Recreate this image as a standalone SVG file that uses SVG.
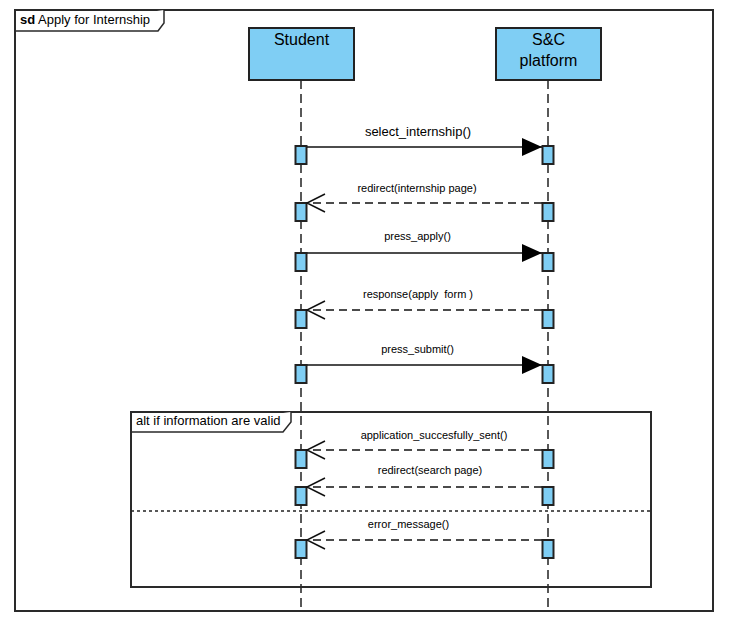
<svg xmlns="http://www.w3.org/2000/svg" width="730" height="623" viewBox="0 0 730 623">
  <style>
    .frame { fill: none; stroke: #2a2a2a; stroke-width: 2; }
    .tab { fill: #ffffff; stroke: #2a2a2a; stroke-width: 1.5; }
    .head { fill: #7fcef4; stroke: #222; stroke-width: 2; }
    .act { fill: #7fcef4; stroke: #222; stroke-width: 2; }
    .life { stroke: #222; stroke-width: 1.5; stroke-dasharray: 9 5; fill: none; }
    .call { stroke: #111; stroke-width: 1.5; fill: none; }
    .ret { stroke: #111; stroke-width: 1.5; stroke-dasharray: 8 5; fill: none; }
    .open { stroke: #111; stroke-width: 1.5; fill: none; }
    .sep { stroke: #222; stroke-width: 1.5; stroke-dasharray: 3 3; fill: none; }
    .name { font-family: "Liberation Sans", Arial, sans-serif; font-size: 16px; fill: #000; text-anchor: middle; }
    .lbl { font-family: "Liberation Sans", Arial, sans-serif; font-size: 11px; fill: #000; text-anchor: middle; }
    .lbl.big { font-size: 13px; }
    .lbl13 { font-family: "Liberation Sans", Arial, sans-serif; font-size: 13px; fill: #000; }
  </style>
  <defs>
    <marker id="filled" markerWidth="20" markerHeight="18" refX="20" refY="9" orient="auto" markerUnits="userSpaceOnUse">
      <path d="M0,0 L20,9 L0,18 Z" fill="#000"/>
    </marker>
  </defs>

  <rect width="730" height="623" fill="#ffffff"/>

  <!-- sd frame -->
  <g id="frame-sd">
    <rect class="frame" x="15" y="10" width="698" height="601"/>
    <path class="tab" d="M15,31 H158 L164,23 V10"/>
    <text class="lbl13" x="20" y="24"><tspan font-weight="bold">sd</tspan> Apply for Internship</text>
  </g>

  <!-- lifeline: Student -->
  <g id="student">
    <line class="life" x1="301" y1="80" x2="301" y2="611"/>
    <rect class="head" x="249" y="28" width="105" height="52"/>
    <text class="name" x="301.5" y="45">Student</text>
  </g>

  <!-- lifeline: S&C platform -->
  <g id="platform">
    <line class="life" x1="548" y1="80" x2="548" y2="611"/>
    <rect class="head" x="496" y="28" width="105" height="52"/>
    <text class="name" x="548.5" y="45">S&amp;C</text>
    <text class="name" x="548.5" y="66">platform</text>
  </g>

  <!-- alt combined fragment -->
  <g id="alt-fragment">
    <rect class="frame" x="131" y="412" width="520" height="175"/>
    <path class="tab" d="M131,432 H283 L291,422 V412"/>
    <text class="lbl13" x="136" y="425">alt if information are valid</text>
    <line class="sep" x1="131" y1="511" x2="651" y2="511"/>
  </g>

  <!-- activation bars -->
  <g id="activations">
    <rect class="act" x="295.5" y="146" width="11" height="18"/>
    <rect class="act" x="542.5" y="146" width="11" height="18"/>
    <rect class="act" x="295.5" y="203" width="11" height="18"/>
    <rect class="act" x="542.5" y="203" width="11" height="18"/>
    <rect class="act" x="295.5" y="253" width="11" height="18"/>
    <rect class="act" x="542.5" y="253" width="11" height="18"/>
    <rect class="act" x="295.5" y="310" width="11" height="18"/>
    <rect class="act" x="542.5" y="310" width="11" height="18"/>
    <rect class="act" x="295.5" y="365" width="11" height="18"/>
    <rect class="act" x="542.5" y="365" width="11" height="18"/>
    <rect class="act" x="295.5" y="450" width="11" height="18"/>
    <rect class="act" x="542.5" y="450" width="11" height="18"/>
    <rect class="act" x="295.5" y="487" width="11" height="18"/>
    <rect class="act" x="542.5" y="487" width="11" height="18"/>
    <rect class="act" x="295.5" y="540" width="11" height="18"/>
    <rect class="act" x="542.5" y="540" width="11" height="18"/>
  </g>

  <!-- messages -->
  <g id="connectors">
    <line class="call" x1="307" y1="147" x2="542" y2="147" marker-end="url(#filled)"/>
    <text class="lbl big" x="418" y="136">select_internship()</text>

    <line class="ret" x1="542" y1="203" x2="308" y2="203"/>
    <path class="open" d="M325,194 L307,203 L325,212"/>
    <text class="lbl" x="417" y="192">redirect(internship page)</text>

    <line class="call" x1="307" y1="253" x2="542" y2="253" marker-end="url(#filled)"/>
    <text class="lbl" x="417.5" y="240">press_apply()</text>

    <line class="ret" x1="542" y1="310" x2="308" y2="310"/>
    <path class="open" d="M325,301 L307,310 L325,319"/>
    <text class="lbl" x="418" y="298" xml:space="preserve">response(apply  form )</text>

    <line class="call" x1="307" y1="365" x2="542" y2="365" marker-end="url(#filled)"/>
    <text class="lbl" x="417.5" y="353">press_submit()</text>

    <line class="ret" x1="542" y1="450" x2="308" y2="450"/>
    <path class="open" d="M325,441 L307,450 L325,459"/>
    <text class="lbl" x="434" y="439">application_succesfully_sent()</text>

    <line class="ret" x1="542" y1="487" x2="308" y2="487"/>
    <path class="open" d="M325,478 L307,487 L325,496"/>
    <text class="lbl" x="430" y="474">redirect(search page)</text>

    <line class="ret" x1="542" y1="540" x2="308" y2="540"/>
    <path class="open" d="M325,531 L307,540 L325,549"/>
    <text class="lbl" x="408.5" y="528">error_message()</text>
  </g>
</svg>
